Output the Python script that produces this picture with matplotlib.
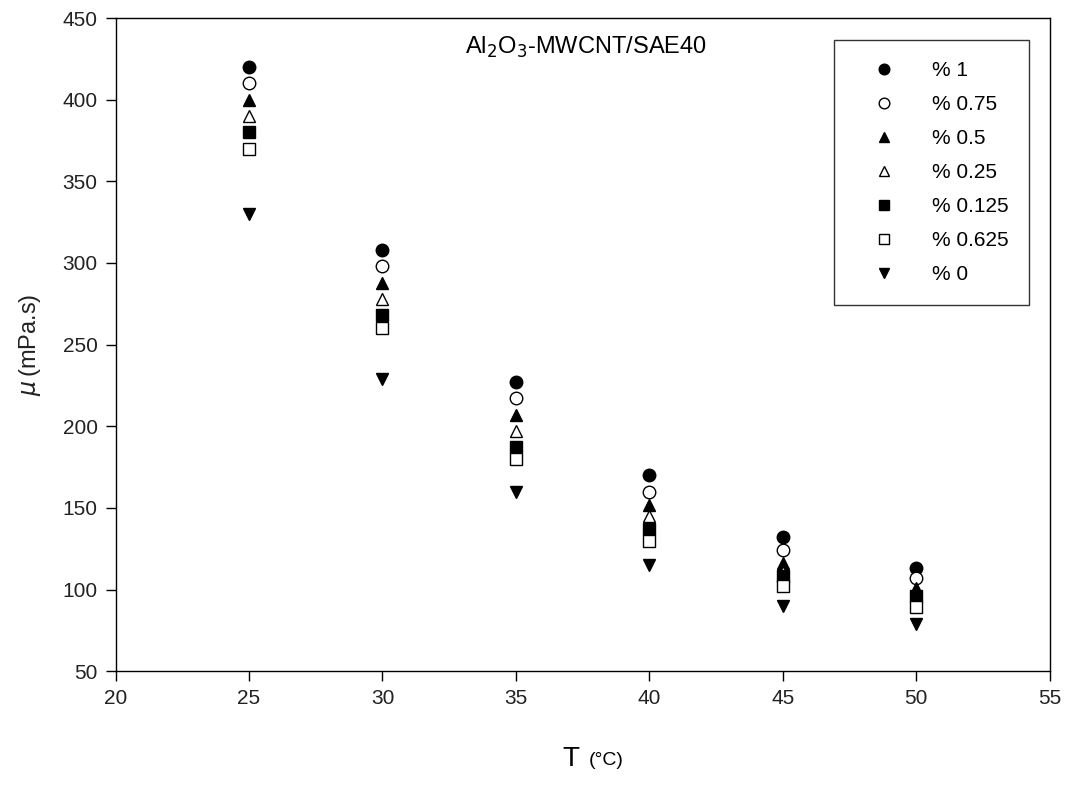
import matplotlib
matplotlib.use("Agg")
import matplotlib.pyplot as plt
import numpy as np

plt.rcParams['font.family'] = ['Liberation Sans', 'DejaVu Sans']

temps = [25, 30, 35, 40, 45, 50]
labels = ["% 1", "% 0.75", "% 0.5", "% 0.25", "% 0.125", "% 0.625", "% 0"]
mu_1 = [420, 308, 227, 170, 132, 113]
mu_075 = [410, 298, 217, 160, 124, 107]
mu_05 = [400, 288, 207, 152, 116, 101]
mu_025 = [390, 278, 197, 145, 111, 97]
mu_0125 = [380, 268, 187, 137, 108, 96]
mu_0625 = [370, 260, 180, 130, 102, 89]
mu_0 = [330, 229, 160, 115, 90, 79]

series = [mu_1, mu_075, mu_05, mu_025, mu_0125, mu_0625, mu_0]
markers = ['o', 'o', '^', '^', 's', 's', 'v']
filled = [True, False, True, False, True, False, True]

fig = plt.figure(figsize=(10.8, 7.85), dpi=100)
ax = fig.add_axes([0.107, 0.145, 0.865, 0.832])

for vals, lab, m, f in zip(series, labels, markers, filled):
    ax.plot(temps, vals, linestyle='none', marker=m, markersize=9,
            markerfacecolor='black' if f else 'white', markeredgecolor='black',
            markeredgewidth=1.0, label=lab)

ax.set_xlim(20, 55)
ax.set_ylim(50, 450)
ax.set_xticks(np.arange(20, 56, 5))
ax.set_yticks(np.arange(50, 451, 50))
ax.tick_params(direction='out', length=7, width=1, labelsize=15, pad=6,
               top=False, right=False, labelcolor='#222222')
for s in ax.spines.values():
    s.set_linewidth(1.0)

ax.set_ylabel(r"$\mu\,$(mPa.s)", fontsize=17, labelpad=14, color='#222222')
ax.text(0.497, -0.135, "T", transform=ax.transAxes, fontsize=20,
        ha='right', va='center')
ax.text(0.506, -0.137, "(°C)", transform=ax.transAxes, fontsize=14,
        ha='left', va='center')

ax.text(0.503, 0.955, r"Al$_2$O$_3$-MWCNT/SAE40", transform=ax.transAxes,
        fontsize=17, ha='center', va='center')

leg = ax.legend(loc='upper right', bbox_to_anchor=(0.978, 0.966),
                fontsize=15, frameon=True, fancybox=False,
                edgecolor='black', borderpad=1.0, labelspacing=0.72,
                handletextpad=0.9, borderaxespad=0, handlelength=2.8,
                markerscale=0.85)
leg.get_frame().set_linewidth(1.0)

fig.savefig("out.png", dpi=100)
